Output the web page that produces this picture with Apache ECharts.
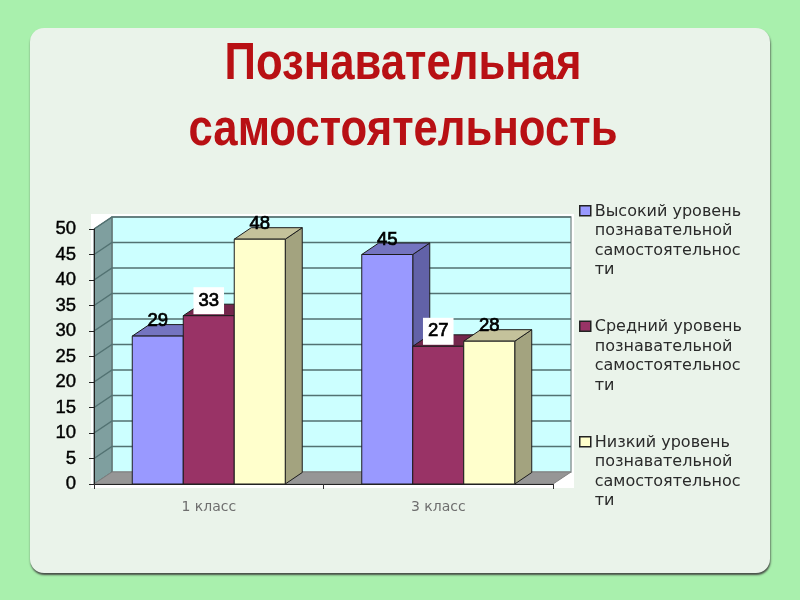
<!DOCTYPE html>
<html><head><meta charset="utf-8">
<style>html,body{margin:0;padding:0;background:#a9f0ad}#c{width:800px;height:600px}</style>
<script src="https://cdn.jsdelivr.net/npm/echarts@6/dist/echarts.min.js"></script>
</head><body><div id="c"></div>
<script>
const titleLines = ['Познавательная', 'самостоятельность'];
const categories = ['1 класс', '3 класс'];
const seriesNames = [
  'Высокий уровень\nпознавательной\nсамостоятельнос\nти',
  'Средний уровень\nпознавательной\nсамостоятельнос\nти',
  'Низкий уровень\nпознавательной\nсамостоятельнос\nти'
];
const highValues = [29, 45];
const middleValues = [33, 27];
const lowValues = [48, 28];
const yTicks = [5, 10, 15, 20, 25, 30, 35, 40, 45, 50];
const seriesValues = [highValues, middleValues, lowValues];

const palette = [
  {front: '#9999ff', top: '#7474c0', side: '#6262a8'},
  {front: '#993366', top: '#74264c', side: '#6a2446'},
  {front: '#ffffcc', top: '#c4c29b', side: '#a3a37f'}
];
const DX = 18, DY = 12, BAR_DX = 17, BAR_DY = 11.5, BAR_SHARE = 0.2222;
const OUTLINE = '#1c1c1c';
const LABEL_FONT = '18.5px "Liberation Sans", Arial, sans-serif';

function wallsRender(params, api) {
  if (params.dataIndex !== 0) return null;
  const c = params.coordSys;
  const l = c.x, r = c.x + c.width, t = c.y, b = c.y + c.height;
  return {type: 'group', silent: true, children: [
    {type: 'polygon', shape: {points: [[l + DX, t - DY], [r + DX, t - DY], [r + DX, b - DY], [l + DX, b - DY]]},
     style: {fill: '#ccffff', stroke: '#8f9a9a', lineWidth: 1.5}},
    {type: 'polygon', shape: {points: [[l, b], [l, t], [l + DX, t - DY], [l + DX, b - DY]]},
     style: {fill: '#7f9f9f', stroke: '#4c6060', lineWidth: 1}},
    {type: 'polygon', shape: {points: [[l, b], [l + DX, b - DY], [r + DX, b - DY], [r, b]]},
     style: {fill: '#969696', stroke: '#808080', lineWidth: 1}}
  ]};
}
function gridRender(params, api) {
  const c = params.coordSys;
  const p = api.coord([0, api.value(0)]);
  const y = p[1], l = c.x, r = c.x + c.width;
  const st = {stroke: '#527272', lineWidth: 1.5, fill: null};
  return {type: 'group', silent: true, children: [
    {type: 'polyline', shape: {points: [[l, y], [l + DX, y - DY], [r + DX, y - DY]]}, style: st}
  ]};
}
function barRender(seriesIdx) {
  return function (params, api) {
    const band = api.size([1, 0])[0];
    const w = band * BAR_SHARE;
    const top = api.coord([api.value(0), api.value(1)]);
    const base = api.coord([api.value(0), 0]);
    const x0 = top[0] + (seriesIdx - 1.5) * w, x1 = x0 + w, yt = top[1], yb = base[1];
    const col = palette[seriesIdx];
    const ol = {stroke: OUTLINE, lineWidth: 1};
    const boxed = seriesIdx === 1;
    return {type: 'group', children: [
      {type: 'polygon', shape: {points: [[x1, yt], [x1 + BAR_DX, yt - BAR_DY], [x1 + BAR_DX, yb - BAR_DY], [x1, yb]]},
       style: Object.assign({fill: col.side}, ol)},
      {type: 'polygon', shape: {points: [[x0, yt], [x0 + BAR_DX, yt - BAR_DY], [x1 + BAR_DX, yt - BAR_DY], [x1, yt]]},
       style: Object.assign({fill: col.top}, ol)},
      {type: 'rect', shape: {x: x0, y: yt, width: w, height: yb - yt},
       style: Object.assign({fill: col.front}, ol)},
      {type: 'text', z2: 100, style: Object.assign({
        text: String(api.value(1)), x: (x0 + x1) / 2, y: yt - 15,
        align: 'center', verticalAlign: 'middle', fill: '#000', font: LABEL_FONT,
        stroke: '#000', lineWidth: 0.7
      }, boxed ? {backgroundColor: '#fff', padding: [4, 5, 4, 5]} : {})}
    ]};
  };
}

const barSeries = seriesNames.map((name, i) => ({
  type: 'custom', name, coordinateSystem: 'cartesian2d', xAxisIndex: 0, yAxisIndex: 0,
  renderItem: barRender(i), clip: false, z: 5 + i, animation: false,
  encode: {x: 0, y: 1},
  itemStyle: {color: palette[i].front},
  data: seriesValues[i].map((v, k) => [k, v])
}));

const chart = echarts.init(document.getElementById('c'), null, {renderer: 'canvas'});
chart.setOption({
  animation: false,
  backgroundColor: '#a9f0ad',
  graphic: [
    {type: 'rect', z: -2, silent: true, shape: {x: 30, y: 28, width: 740, height: 545, r: 14},
     style: {fill: '#eaf3ea', shadowColor: 'rgba(60,60,60,0.9)', shadowBlur: 2, shadowOffsetX: 0.5, shadowOffsetY: 2}},
    {type: 'rect', z: -1, silent: true, shape: {x: 91, y: 214, width: 483, height: 274},
     style: {fill: '#ffffff'}},
    {type: 'text', z: 30, silent: true, x: 403, y: 98, scaleX: 0.84, originX: 0, originY: 0,
     style: {text: titleLines.join('\n'), align: 'center', verticalAlign: 'middle', lineHeight: 66,
       font: 'bold 52px "Liberation Sans", Arial, sans-serif', fill: '#b81014'}}
  ],
  legend: {
    orient: 'vertical', left: 574, top: 196, itemGap: 36, itemWidth: 11, itemHeight: 78,
    selectedMode: false, icon: 'path://M0 0L0 0M0 4H11V14H0ZM11 78L11 78',
    textStyle: {fontFamily: '"DejaVu Sans", sans-serif', fontSize: 16, lineHeight: 19.4, color: '#2a2a2a', padding: [0, 0, 0, -1]},
    itemStyle: {borderColor: '#222', borderWidth: 1},
    data: seriesNames.map((name, i) => ({name, itemStyle: {color: palette[i].front, borderColor: '#222', borderWidth: 1.5}}))
  },
  grid: {left: 94, right: 247, top: 229, bottom: 116},
  xAxis: {
    type: 'category', data: categories, z: 20,
    axisLine: {lineStyle: {color: '#222', width: 1}},
    axisTick: {show: true, length: 5, lineStyle: {color: '#333'}},
    axisLabel: {margin: 16, fontFamily: '"DejaVu Sans", sans-serif', fontSize: 14, color: '#6e6e6e'},
    splitLine: {show: false}
  },
  yAxis: {
    type: 'value', min: 0, max: 50, interval: 5, z: 20,
    axisLine: {show: true, lineStyle: {color: '#222', width: 1}},
    axisTick: {show: true, length: 5, lineStyle: {color: '#222'}},
    axisLabel: {margin: 18, fontFamily: '"Liberation Sans", Arial, sans-serif', fontSize: 18.5, color: '#000',
      textBorderColor: '#000', textBorderWidth: 0.4},
    splitLine: {show: false}
  },
  series: [
    {type: 'custom', coordinateSystem: 'cartesian2d', renderItem: wallsRender, silent: true, z: 1,
     clip: false, encode: {x: 0, y: 1}, data: [[0, 0]]},
    {type: 'custom', coordinateSystem: 'cartesian2d', renderItem: gridRender, silent: true, z: 2,
     clip: false, encode: {y: 0}, data: yTicks.map(v => [v])},
    ...barSeries
  ]
});
</script></body></html>
